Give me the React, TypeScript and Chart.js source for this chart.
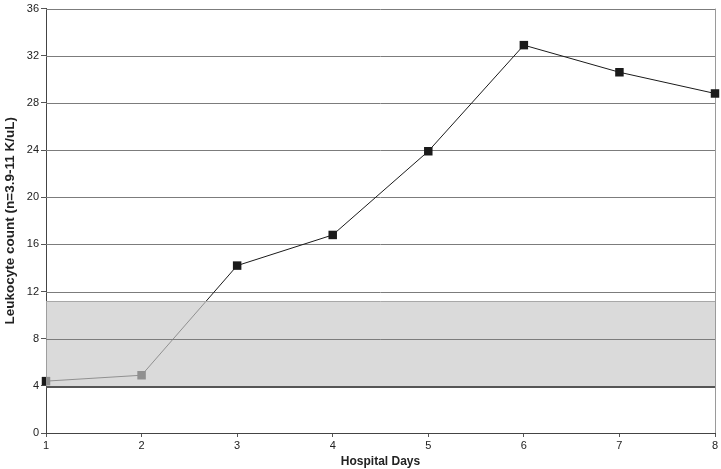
import React, { useEffect, useRef } from "react";
import { Chart, registerables } from "chart.js";

Chart.register(...registerables);

const days = [1, 2, 3, 4, 5, 6, 7, 8];
const leukocytes = [4.4, 4.9, 14.2, 16.8, 23.9, 32.9, 30.6, 28.8];
const normalLow = 3.9;
const normalHigh = 11.2;
const yTicks = [0, 4, 8, 12, 16, 20, 24, 28, 32, 36];

function plotBounds(chart: any) {
  const x = chart.scales.x;
  const y = chart.scales.y;
  return {
    left: x.getPixelForValue(1),
    right: x.getPixelForValue(8),
    top: y.getPixelForValue(36),
    bottom: y.getPixelForValue(0),
  };
}

function drawGrid(chart: any, onlyBand: boolean) {
  const { ctx, scales } = chart;
  const y = scales.y;
  const b = plotBounds(chart);
  ctx.save();
  ctx.strokeStyle = "#7c7c7c";
  ctx.lineWidth = 1;
  yTicks.forEach((v) => {
    if (v === 0) return;
    if (onlyBand && !(v > normalLow && v < normalHigh)) return;
    const py = Math.round(y.getPixelForValue(v)) + 0.5;
    ctx.beginPath();
    ctx.moveTo(b.left, py);
    ctx.lineTo(b.right, py);
    ctx.stroke();
  });
  ctx.restore();
}

const bandPlugin = {
  id: "band",
  beforeDatasetsDraw(chart: any) {
    drawGrid(chart, false);
    const { ctx } = chart;
    const b = plotBounds(chart);
    ctx.save();
    ctx.strokeStyle = "#9a9a9a";
    ctx.lineWidth = 1;
    ctx.beginPath();
    ctx.moveTo(Math.round(b.right) + 0.5, b.top);
    ctx.lineTo(Math.round(b.right) + 0.5, b.bottom);
    ctx.stroke();
    ctx.restore();
  },
  afterDatasetsDraw(chart: any) {
    const { ctx, scales } = chart;
    const y = scales.y;
    const b = plotBounds(chart);
    const top = y.getPixelForValue(normalHigh);
    const bot = y.getPixelForValue(normalLow);
    ctx.save();
    ctx.fillStyle = "rgba(200,200,200,0.68)";
    ctx.fillRect(b.left, top, b.right - b.left, bot - top);
    ctx.restore();
    drawGrid(chart, true);
    ctx.save();
    ctx.lineWidth = 1;
    ctx.strokeStyle = "#a8a8a8";
    ctx.beginPath();
    ctx.moveTo(b.left, Math.round(top) + 0.5);
    ctx.lineTo(b.right, Math.round(top) + 0.5);
    ctx.stroke();
    ctx.strokeStyle = "#555";
    ctx.lineWidth = 2;
    ctx.beginPath();
    ctx.moveTo(b.left, Math.round(bot));
    ctx.lineTo(b.right, Math.round(bot));
    ctx.stroke();
    ctx.restore();
  },
};

export default function App() {
  const ref = useRef<HTMLCanvasElement>(null);
  useEffect(() => {
    document.body.style.margin = "0";
    const chart = new Chart(ref.current!, {
      type: "line",
      data: {
        datasets: [
          {
            data: days.map((d, i) => ({ x: d, y: leukocytes[i] })),
            borderColor: "#1a1a1a",
            borderWidth: 1,
            backgroundColor: "#1a1a1a",
            pointStyle: "rect",
            pointRadius: 6,
            pointBorderWidth: 0,
            pointBackgroundColor: "#1a1a1a",
            tension: 0,
            clip: false,
          },
        ],
      },
      options: {
        animation: false,
        responsive: false,
        events: [],
        layout: { padding: { top: 5, right: 5, left: 2, bottom: 0 } },
        plugins: { legend: { display: false }, tooltip: { enabled: false } },
        scales: {
          x: {
            type: "linear",
            min: 1,
            max: 8,
            afterFit: (s: any) => {
              s.height = 36;
            },
            ticks: {
              stepSize: 1,
              color: "#222",
              font: { family: "Liberation Sans, Arial", size: 11 },
              padding: 2,
            },
            grid: {
              drawOnChartArea: false,
              drawTicks: true,
              tickLength: 4,
              color: "#555",
            },
            border: { color: "#444", width: 1 },
            title: {
              display: true,
              text: "Hospital Days",
              color: "#222",
              font: { family: "Liberation Sans, Arial", size: 12, weight: "bold" },
              padding: { top: 0, bottom: 0 },
            },
          },
          y: {
            min: 0,
            max: 36,
            afterFit: (s: any) => {
              s.width = 44;
            },
            afterBuildTicks: (s: any) => {
              s.ticks = yTicks.map((v) => ({ value: v }));
            },
            ticks: {
              color: "#222",
              font: { family: "Liberation Sans, Arial", size: 11 },
              padding: 2,
            },
            grid: {
              drawOnChartArea: false,
              tickLength: 5,
              color: "#555",
            },
            border: { color: "#444", width: 1 },
            title: {
              display: true,
              text: "Leukocyte count (n=3.9-11 K/uL)",
              color: "#222",
              font: { family: "Liberation Sans, Arial", size: 13.5, weight: "bold" },
              padding: { top: 0, bottom: 0 },
            },
          },
        },
      },
      plugins: [bandPlugin],
    } as any);
    return () => chart.destroy();
  }, []);
  return (
    <div style={{ position: "absolute", left: 0, top: 0 }}>
      <canvas ref={ref} width={721} height={469} style={{ display: "block" }} />
    </div>
  );
}
